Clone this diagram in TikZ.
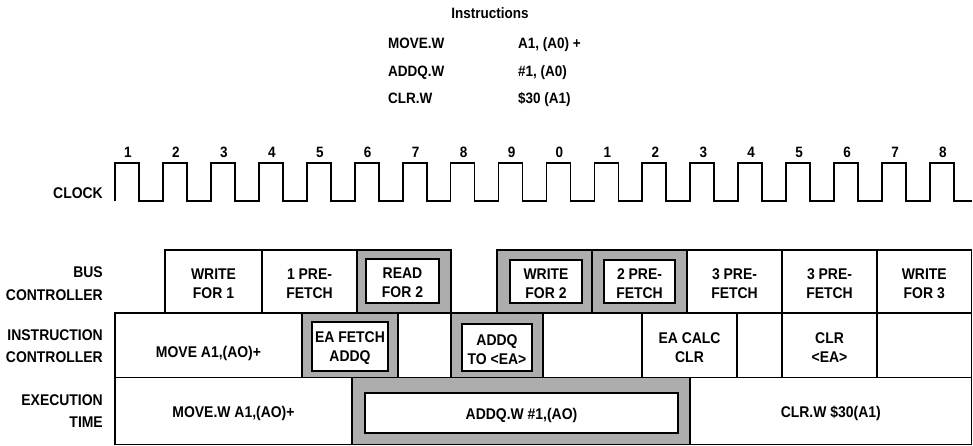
\documentclass[tikz,border=0pt]{standalone}
\usepackage{fontspec}
\setmainfont{Liberation Sans}[FakeStretch=0.9]
\usetikzlibrary{fit}
\newcommand\mkcell[7]{%
  \node[#1, fit={(#3,#4) (#5,#6)}] (#2) {};
  \node[txt] (#2t) at (#2.center) {#7};}
\newcommand\mkbox[6]{%
  \node[#1, fit={(#3,#4) (#5,#6)}] (#2) {};}
\begin{document}
\begin{tikzpicture}[x=1pt,y=-1pt,
  cellbox/.style={draw, line width=1.8pt, inner sep=0pt, outer sep=0pt, fill=white},
  shadebox/.style={draw, line width=1.8pt, inner sep=0pt, outer sep=0pt, fill=black!32},
  innerbox/.style={draw, line width=1.8pt, inner sep=0pt, outer sep=0pt, fill=white},
  txt/.style={font=\fontsize{15.5}{19}\selectfont\bfseries, align=center, inner sep=0pt, yshift=-2pt},
  lbl/.style={font=\fontsize{15.5}{22.5}\selectfont\bfseries, align=right, anchor=east, inner sep=0pt},
  lst/.style={font=\fontsize{15}{17}\selectfont\bfseries, anchor=base west, inner sep=0pt},
  clknum/.style={font=\fontsize{15}{17}\selectfont\bfseries, inner sep=0pt},
]
\useasboundingbox (0,0) rectangle (973,446);

% instruction list
\node[font=\fontsize{15}{17}\selectfont\bfseries, inner sep=0pt, anchor=base] (title) at (490,18.5) {Instructions};
\node[lst] (m1) at (388,48.5) {MOVE.W};
\node[lst] (m2) at (518,48.5) {A1, (A0) +};
\node[lst] (a1) at (388,76.5) {ADDQ.W};
\node[lst] (a2) at (518,76.5) {\#1, (A0)};
\node[lst] (c1) at (388,104) {CLR.W};
\node[lst] (c2) at (518,104) {\$30 (A1)};

% clock
\node[lbl] (clk) at (103,193) {CLOCK};
\draw[line width=1.8pt, line join=miter]
  (115,201) foreach \k in {0,...,17} {
    -- ({115+47.94*\k},201) -- ({115+47.94*\k},163)
    -- ({139+47.94*\k},163) -- ({139+47.94*\k},201) }
  -- (972,201);
\foreach \t [count=\i from 0] in {1,2,3,4,5,6,7,8,9,0,1,2,3,4,5,6,7,8}
  \node[clknum] (n\i) at ({128+47.94*\i},152) {\t};

% row labels
\node[lbl] (lb) at (103,283.5) {BUS\\CONTROLLER};
\node[lbl] (li) at (103,346) {INSTRUCTION\\CONTROLLER};
\node[lbl] (le) at (103,411) {EXECUTION\\TIME};

% bus controller row
\mkcell{cellbox}{b1}{165}{250}{262}{313}{WRITE\\FOR 1}
\mkcell{cellbox}{b2}{262}{250}{357}{313}{1 PRE-\\FETCH}
\mkbox{shadebox}{b3}{357}{250}{451}{313}
\mkcell{innerbox}{b3i}{366}{259}{439}{303}{READ\\FOR 2}
\mkbox{shadebox}{b4}{497}{250}{592}{313}
\mkcell{innerbox}{b4i}{510}{260}{582}{303}{WRITE\\FOR 2}
\mkbox{shadebox}{b5}{592}{250}{687}{313}
\mkcell{innerbox}{b5i}{604}{260}{675}{303}{2 PRE-\\FETCH}
\mkcell{cellbox}{b6}{687}{250}{782}{313}{3 PRE-\\FETCH}
\mkcell{cellbox}{b7}{782}{250}{877}{313}{3 PRE-\\FETCH}
\mkcell{cellbox}{b8}{877}{250}{971.5}{313}{WRITE\\FOR 3}

% instruction controller row
\mkbox{cellbox}{i1}{115}{313}{302}{377.5}
\node[txt, yshift=-6pt] (i1t) at (i1.center) {MOVE A1,(AO)+};
\mkbox{shadebox}{i2}{302}{313}{398}{377.5}
\mkcell{innerbox}{i2i}{312}{322}{388}{371}{EA FETCH\\ADDQ}
\mkbox{cellbox}{i3}{398}{313}{451}{377.5}
\mkbox{shadebox}{i4}{451}{313}{543}{377.5}
\mkcell{innerbox}{i4i}{462}{324}{532}{371}{ADDQ\\TO <EA>}
\mkbox{cellbox}{i5}{543}{313}{642}{377.5}
\mkcell{cellbox}{i6}{642}{313}{737}{377.5}{EA CALC\\CLR}
\mkbox{cellbox}{i7}{737}{313}{782}{377.5}
\mkcell{cellbox}{i8}{782}{313}{877}{377.5}{CLR\\<EA>}
\mkbox{cellbox}{i9}{877}{313}{971.5}{377.5}

% execution time row
\mkcell{cellbox}{e1}{115}{377.5}{352}{444.5}{MOVE.W A1,(AO)+}
\mkbox{shadebox}{e2}{352}{377.5}{690}{444.5}
\mkcell{innerbox}{e2i}{365}{393}{678}{433}{ADDQ.W \#1,(AO)}
\mkcell{cellbox}{e3}{690}{377.5}{971.5}{444.5}{CLR.W \$30(A1)}
\end{tikzpicture}
\end{document}
